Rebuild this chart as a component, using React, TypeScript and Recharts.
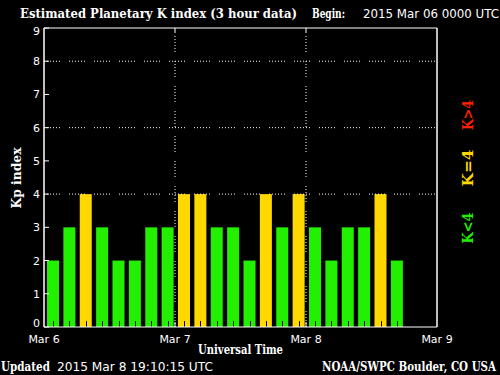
import { BarChart, Bar, XAxis, YAxis, ReferenceLine } from 'recharts';

const dayLabels = ['Mar 6', 'Mar 7', 'Mar 8', 'Mar 9'];
const hourLabels = ['00', '03', '06', '09', '12', '15', '18', '21'];
const kpValues = [2, 3, 4, 3, 2, 2, 3, 3, 4, 4, 3, 3, 2, 4, 3, 4, 3, 2, 3, 3, 4, 2];
const kpTicks = [0, 1, 2, 3, 4, 5, 6, 7, 8, 9];
const gridLevels = [4, 6, 8];

const GREEN = '#22f000';
const YELLOW = '#ffd800';
const RED = '#ff2000';
const DOTS = '1 2 1 2 1 2 1 2 1 2 1 9';
const SERIF = '"DejaVu Serif", serif';
const THIN = '"DejaVu Sans", sans-serif';

// 8 three-hour slots per day, three days shown
const chartData = dayLabels.slice(0, 3).flatMap((day, di) =>
  hourLabels.map((hour, hi) => {
    const i = di * 8 + hi;
    return { slot: `${day} ${hour}`, kp: i < kpValues.length ? kpValues[i] : null };
  })
);
const firstSlot = chartData[0].slot;
const lastSlot = chartData[chartData.length - 1].slot;
// day boundaries inside the plot: Mar 7 00 and Mar 8 00
const dayStarts = [dayLabels[1], dayLabels[2]].map((d) => `${d} ${hourLabels[0]}`);

const kpColor = (kp: number) => (kp > 4 ? RED : kp === 4 ? YELLOW : GREEN);

const KpBar = (props: any) => {
  const { x, y, width, height, payload } = props;
  if (payload.kp == null || !height) return null;
  const cx = Math.round(x + 1 + width / 2) + 0.5;
  return (
    <g>
      <rect x={x + 1} y={y} width={width} height={height} fill={kpColor(payload.kp)} />
      <line x1={cx} x2={cx} y1={y + height} y2={y + height - 6} stroke="#000" strokeWidth={1} />
    </g>
  );
};

const YTick = (props: any) => {
  const v = props.payload.value;
  const shift = v === 0 ? -4 : v === 9 ? 3 : 0;
  return (
    <text x={40} y={props.y + shift} dy={4} textAnchor="end" fill="#fff" fontSize={11} fontFamily={THIN}>
      {v}
    </text>
  );
};

const DayLabel = ({ viewBox, text }: any) => (
  <text x={viewBox.x} y={343} textAnchor="middle" fill="#fff" fontSize={11} fontFamily={THIN}>
    {text}
  </text>
);

export default function App() {
  return (
    <div style={{ position: 'absolute', left: 0, top: 0, width: 500, height: 375, background: '#000' }}>
      <BarChart
        width={500}
        height={375}
        data={chartData}
        margin={{ top: 28, right: 63, bottom: 48, left: 44 }}
        barCategoryGap={2}
      >
        <XAxis xAxisId="bars" dataKey="slot" type="category" mirror
          axisLine={{ stroke: '#fff' }} tickLine={false} tick={false} />
        <YAxis yAxisId="left" type="number" domain={[0, 9]} ticks={kpTicks} mirror
          axisLine={{ stroke: '#fff' }} tickLine={{ stroke: '#fff' }} tickSize={5} tick={<YTick />} />
        <YAxis yAxisId="right" type="number" domain={[0, 9]} ticks={kpTicks} orientation="right" mirror
          axisLine={{ stroke: '#fff' }} tickLine={{ stroke: '#fff' }} tickSize={4} tick={false} />
        {gridLevels.map((lv) => (
          <ReferenceLine key={lv} xAxisId="bars" yAxisId="left" y={lv} stroke="#fff" strokeDasharray={DOTS} />
        ))}
        <ReferenceLine xAxisId="bars" yAxisId="left" y={9} stroke="#fff" />
        {dayStarts.map((s, i) => (
          <ReferenceLine key={s} xAxisId="bars" yAxisId="left" x={s} position="start" stroke="#fff"
            strokeDasharray={DOTS} label={<DayLabel text={dayLabels[i + 1]} />} />
        ))}
        {dayStarts.map((s) => (
          <ReferenceLine key={`top${s}`} xAxisId="bars" yAxisId="left" position="start" stroke="#fff"
            segment={[{ x: s, y: 9 }, { x: s, y: 8.85 }]} />
        ))}
        {dayStarts.map((s) => (
          <ReferenceLine key={`bot${s}`} xAxisId="bars" yAxisId="left" position="start" stroke="#fff"
            segment={[{ x: s, y: 0 }, { x: s, y: 0.15 }]} />
        ))}
        <ReferenceLine xAxisId="bars" yAxisId="left" x={firstSlot} position="start" stroke="#fff"
          label={<DayLabel text={dayLabels[0]} />} />
        <ReferenceLine xAxisId="bars" yAxisId="left" x={lastSlot} position="end" stroke="#fff"
          label={<DayLabel text={dayLabels[3]} />} />
        <Bar xAxisId="bars" yAxisId="left" dataKey="kp" shape={<KpBar />} isAnimationActive={false} />
      </BarChart>
      <svg width={500} height={375} style={{ position: 'absolute', left: 0, top: 0, pointerEvents: 'none' }}>
        <text x={20} y={18} fill="#fff" fontSize={12} fontFamily={SERIF} fontWeight="bold" textLength={277} lengthAdjust="spacingAndGlyphs">
          Estimated Planetary K index (3 hour data)
        </text>
        <text x={312} y={18} fill="#fff" fontSize={12} fontFamily={SERIF} fontWeight="bold" textLength={33} lengthAdjust="spacingAndGlyphs">
          Begin:
        </text>
        <text x={363} y={18} fill="#fff" fontSize={12} fontFamily={THIN} textLength={136} lengthAdjust="spacingAndGlyphs">
          2015 Mar 06 0000 UTC
        </text>
        <text x={17} y={178} transform="rotate(-90 17 178)" dy={4} textAnchor="middle" fill="#fff" fontSize={13}
          fontFamily={SERIF} fontWeight="bold" textLength={61} lengthAdjust="spacingAndGlyphs">
          Kp index
        </text>
        <text x={468} y={115} transform="rotate(-90 468 115)" dy={5} textAnchor="middle" fill={RED} fontSize={14}
          fontFamily={SERIF} fontWeight="bold" textLength={30} lengthAdjust="spacingAndGlyphs">
          K&gt;4
        </text>
        <text x={468} y={168} transform="rotate(-90 468 168)" dy={5} textAnchor="middle" fill={YELLOW} fontSize={14}
          fontFamily={SERIF} fontWeight="bold" textLength={37} lengthAdjust="spacingAndGlyphs">
          K=4
        </text>
        <text x={468} y={228} transform="rotate(-90 468 228)" dy={5} textAnchor="middle" fill={GREEN} fontSize={14}
          fontFamily={SERIF} fontWeight="bold" textLength={31} lengthAdjust="spacingAndGlyphs">
          K&lt;4
        </text>
        <text x={198} y={354} fill="#fff" fontSize={12} fontFamily={SERIF} fontWeight="bold" textLength={85} lengthAdjust="spacingAndGlyphs">
          Universal Time
        </text>
        <text x={1} y={371} fill="#fff" fontSize={12} fontFamily={SERIF} fontWeight="bold" textLength={49} lengthAdjust="spacingAndGlyphs">
          Updated
        </text>
        <text x={57} y={371} fill="#fff" fontSize={12} fontFamily={THIN} textLength={156} lengthAdjust="spacingAndGlyphs">
          2015 Mar  8 19:10:15 UTC
        </text>
        <text x={322} y={371} fill="#fff" fontSize={12} fontFamily={SERIF} fontWeight="bold" textLength={174} lengthAdjust="spacingAndGlyphs">
          NOAA/SWPC Boulder, CO USA
        </text>
      </svg>
    </div>
  );
}
